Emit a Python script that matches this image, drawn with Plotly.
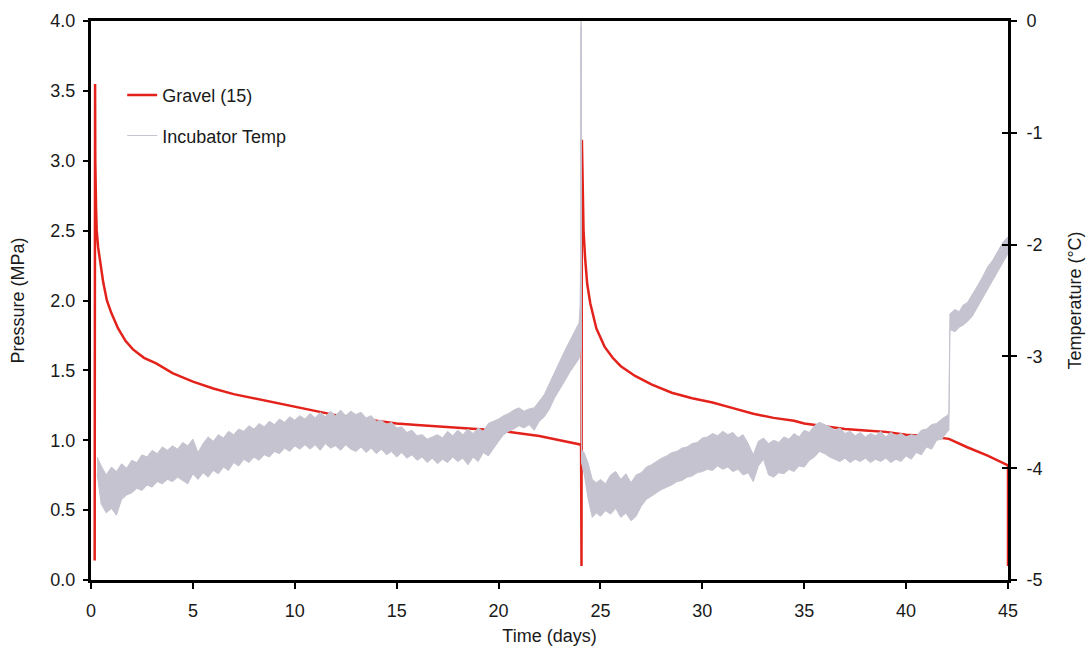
import plotly.graph_objects as go

# ---- Pressure (Gravel (15)), MPa ----
p_days = [0.18, 0.20, 0.21, 0.25, 0.28, 0.35, 0.44, 0.60, 0.78, 1.0, 1.33, 1.7, 2.06, 2.6, 3.2,
          4.0, 5.0, 6.0, 7.0, 8.0, 9.0, 10.0, 11.0, 12.0, 13.0, 14.0, 15.0, 16.0, 17.0, 18.0,
          19.0, 20.0, 21.0, 22.0, 23.0, 24.0, 24.05, 24.07, 24.09, 24.12, 24.17, 24.25, 24.35,
          24.5, 24.8, 25.2, 25.6, 26.0, 26.7, 27.5, 28.5, 29.5, 30.5, 31.5, 32.5, 33.5,
          34.5, 35.0, 36.0, 37.0, 38.0, 39.0, 40.0, 41.0, 42.1, 43.0, 44.0, 45.0, 45.0]
p_mpa = [0.14, 3.55, 3.00, 2.66, 2.50, 2.38, 2.29, 2.13, 2.00, 1.91, 1.80, 1.71, 1.65, 1.59, 1.55,
         1.48, 1.42, 1.37, 1.33, 1.30, 1.27, 1.24, 1.21, 1.18, 1.16, 1.14, 1.12, 1.11, 1.10, 1.09,
         1.08, 1.07, 1.05, 1.03, 1.00, 0.97, 0.96, 0.10, 3.15, 2.80, 2.50, 2.30, 2.12,
         1.98, 1.80, 1.67, 1.59, 1.53, 1.46, 1.40, 1.34, 1.30, 1.27, 1.23, 1.19, 1.16,
         1.14, 1.12, 1.10, 1.08, 1.07, 1.06, 1.04, 1.03, 1.01, 0.95, 0.89, 0.82, 0.10]

# ---- Incubator temperature, read as the high / low edge of its noise band, deg C ----
t_days = [0.30, 0.50, 0.75, 1.00, 1.25, 1.50, 1.75, 2.00, 2.25, 2.50, 2.75, 3.00, 3.25, 3.50,
          3.75, 4.00, 4.25, 4.50, 4.75, 5.00, 5.25, 5.50, 5.75, 6.00, 6.25, 6.50, 6.75, 7.00,
          7.25, 7.50, 7.75, 8.00, 8.25, 8.50, 8.75, 9.00, 9.25, 9.50, 9.75, 10.00, 10.25,
          10.50, 10.75, 11.00, 11.25, 11.50, 11.75, 12.00, 12.25, 12.50, 12.75, 13.00, 13.25,
          13.50, 13.75, 14.00, 14.25, 14.50, 14.75, 15.00, 15.25, 15.50, 15.75, 16.00, 16.25,
          16.50, 16.75, 17.00, 17.25, 17.50, 17.75, 18.00, 18.25, 18.50, 18.75, 19.00, 19.25,
          19.50, 19.75, 20.00, 20.25, 20.50, 20.75, 21.00, 21.25, 21.50, 21.75, 22.00, 22.25,
          22.50, 22.75, 23.00, 23.25, 23.50, 23.75,
          23.95, 24.00, 24.03, 24.05, 24.07, 24.20, 24.40, 24.60, 24.80,
          25.00, 25.25, 25.50, 25.75, 26.00, 26.25, 26.50, 26.75, 27.00, 27.25, 27.50, 27.75,
          28.00, 28.25, 28.50, 28.75, 29.00, 29.25, 29.50, 29.75, 30.00, 30.25, 30.50, 30.75,
          31.00, 31.25, 31.50, 31.75, 32.00, 32.25, 32.50, 32.75, 33.00, 33.25, 33.50, 33.75,
          34.00, 34.25, 34.50, 34.75, 35.00, 35.25, 35.50, 35.75, 36.00, 36.25, 36.50, 36.75,
          37.00, 37.25, 37.50, 37.75, 38.00, 38.25, 38.50, 38.75, 39.00, 39.25, 39.50, 39.75,
          40.00, 40.25, 40.50, 40.75, 41.00, 41.25, 41.50, 41.75, 42.00,
          42.10, 42.15, 42.40, 42.60, 42.80,
          43.00, 43.25, 43.50, 43.75, 44.00, 44.25, 44.50, 44.75, 45.00]
t_high = [-3.90, -3.98, -4.06, -3.99, -4.03, -3.96, -4.00, -3.93, -3.95, -3.88, -3.90, -3.84,
          -3.87, -3.81, -3.84, -3.80, -3.83, -3.77, -3.80, -3.74, -3.86, -3.78, -3.72, -3.76,
          -3.70, -3.73, -3.67, -3.70, -3.65, -3.67, -3.62, -3.65, -3.60, -3.63, -3.58, -3.61,
          -3.56, -3.59, -3.54, -3.57, -3.53, -3.56, -3.51, -3.55, -3.50, -3.54, -3.49, -3.53,
          -3.48, -3.53, -3.49, -3.52, -3.50, -3.55, -3.53, -3.58, -3.57, -3.61, -3.59, -3.64,
          -3.63, -3.68, -3.66, -3.71, -3.70, -3.74, -3.72, -3.70, -3.73, -3.67, -3.71, -3.66,
          -3.70, -3.65, -3.69, -3.64, -3.67, -3.60, -3.58, -3.56, -3.53, -3.51, -3.48, -3.46,
          -3.49, -3.47, -3.46, -3.40, -3.34, -3.24, -3.14, -3.04, -2.95, -2.86, -2.77,
          -2.70, -2.55, -2.10, 0.00, -3.84, -3.86, -3.96, -4.10, -4.13,
          -4.10, -4.14, -4.06, -4.03, -4.10, -4.05, -4.13, -4.06, -4.04, -3.99, -3.97, -3.94,
          -3.91, -3.89, -3.86, -3.85, -3.82, -3.81, -3.78, -3.77, -3.73, -3.72, -3.69, -3.71,
          -3.67, -3.70, -3.68, -3.73, -3.70, -3.78, -3.88, -3.76, -3.73, -3.78, -3.75, -3.77,
          -3.72, -3.74, -3.69, -3.72, -3.66, -3.68, -3.62, -3.59, -3.61, -3.63, -3.66, -3.64,
          -3.69, -3.67, -3.71, -3.68, -3.72, -3.69, -3.71, -3.67, -3.72, -3.68, -3.71, -3.69,
          -3.72, -3.70, -3.71, -3.66, -3.65, -3.61, -3.60, -3.56, -3.53,
          -3.51, -2.62, -2.58, -2.60, -2.54,
          -2.52, -2.45, -2.37, -2.29, -2.20, -2.14, -2.06, -1.98, -1.93]
t_low = [-4.05, -4.32, -4.40, -4.36, -4.42, -4.28, -4.24, -4.22, -4.18, -4.20, -4.15, -4.17,
         -4.12, -4.14, -4.10, -4.12, -4.08, -4.11, -4.14, -4.05, -4.10, -4.04, -4.08, -4.02,
         -4.05, -3.99, -4.02, -3.95, -3.98, -3.92, -3.95, -3.90, -3.93, -3.88, -3.90, -3.85,
         -3.87, -3.82, -3.85, -3.80, -3.83, -3.79, -3.83, -3.79, -3.84, -3.78, -3.82, -3.80,
         -3.84, -3.79, -3.83, -3.85, -3.81, -3.86, -3.82, -3.87, -3.83, -3.88, -3.85, -3.90,
         -3.86, -3.91, -3.88, -3.93, -3.90, -3.95, -3.91, -3.96, -3.92, -3.95, -3.90, -3.94,
         -3.91, -3.97, -3.90, -3.94, -3.86, -3.89, -3.82, -3.76, -3.70, -3.67, -3.65, -3.62,
         -3.64, -3.61, -3.66, -3.58, -3.54, -3.47, -3.37, -3.30, -3.22, -3.14, -3.07,
         -3.02, -2.95, -2.90, -0.05, -3.95, -4.05, -4.28, -4.44, -4.40,
         -4.43, -4.38, -4.41, -4.36, -4.44, -4.40, -4.47, -4.43, -4.34, -4.28, -4.25, -4.22,
         -4.19, -4.17, -4.15, -4.12, -4.11, -4.08, -4.07, -4.04, -4.03, -4.01, -4.02, -3.98,
         -4.01, -3.99, -4.03, -4.01, -4.06, -4.04, -4.12, -3.98, -3.92, -4.06, -4.08, -4.04,
         -4.05, -4.01, -4.03, -3.98, -3.99, -3.93, -3.90, -3.85, -3.87, -3.90, -3.92, -3.94,
         -3.91, -3.95, -3.92, -3.94, -3.91, -3.95, -3.92, -3.94, -3.91, -3.95, -3.92, -3.94,
         -3.89, -3.92, -3.86, -3.88, -3.81, -3.83, -3.75, -3.74, -3.68,
         -3.66, -2.76, -2.78, -2.74, -2.72,
         -2.69, -2.64, -2.56, -2.48, -2.41, -2.32, -2.25, -2.16, -2.08]
assert len(t_days) == len(t_high) == len(t_low)
assert len(p_days) == len(p_mpa)

temp_ticks = [-5, -4, -3, -2, -1, 0]
temp_labels = ["-5", "-4", "-3", "-2", "-1", "0"]

RED = "#e3221b"
GRAY = "#c5c3cf"
FONT = "Liberation Sans, Arial, sans-serif"
TXT = "#1a1a1a"

fig = go.Figure()

fig.add_trace(go.Scatter(x=t_days, y=t_low, yaxis="y2", mode="lines",
                         line=dict(color=GRAY, width=1), showlegend=False, hoverinfo="skip",
                         legendgroup="b"))
fig.add_trace(go.Scatter(x=t_days, y=t_high, yaxis="y2", mode="lines",
                         line=dict(color=GRAY, width=1), fill="tonexty", fillcolor=GRAY,
                         showlegend=False, hoverinfo="skip", legendgroup="b"))
# legend entry for the temperature series
fig.add_trace(go.Scatter(x=[None], y=[None], yaxis="y2", mode="lines", name="Incubator Temp",
                         line=dict(color=GRAY, width=1), legendrank=2, legendgroup="b"))
# empty trace so the inner-tick copy of the right axis is drawn
fig.add_trace(go.Scatter(x=[None], y=[None], yaxis="y3", mode="lines", showlegend=False,
                         hoverinfo="skip"))

fig.add_trace(go.Scatter(x=p_days, y=p_mpa, mode="lines", name="Gravel (15)",
                         line=dict(color=RED, width=2.5), legendrank=1, legendgroup="a"))

axis_font = dict(family=FONT, size=18, color=TXT)
title_font = dict(family=FONT, size=18, color=TXT)

fig.update_layout(
    width=1089, height=655,
    margin=dict(l=91, r=81, t=21, b=75),
    paper_bgcolor="white", plot_bgcolor="white",
    font=dict(family=FONT, size=18, color=TXT),
    xaxis=dict(range=[0, 45], dtick=5, tick0=0, showgrid=False, zeroline=False,
               showline=True, linecolor="black", linewidth=3, mirror=True,
               ticks="outside", ticklen=6, tickwidth=2, tickcolor="black",
               tickfont=axis_font, ticklabelstandoff=6, automargin=False,
               title=dict(text="Time (days)", font=title_font, standoff=10)),
    yaxis=dict(range=[0, 4], dtick=0.5, tick0=0, tickformat=".1f", showgrid=False,
               zeroline=False, showline=True, linecolor="black", linewidth=3,
               ticks="outside", ticklen=5, tickwidth=2, tickcolor="black",
               tickfont=axis_font, ticklabelstandoff=4, automargin=False,
               title=dict(text="Pressure (MPa)", font=title_font, standoff=22)),
    yaxis2=dict(range=[-5, 0], tickvals=temp_ticks, ticktext=temp_labels, overlaying="y",
                side="right", showgrid=False, zeroline=False, showline=True,
                linecolor="black", linewidth=3,
                ticks="outside", ticklen=6, tickwidth=2, tickcolor="black",
                tickfont=axis_font, ticklabelstandoff=6, automargin=False,
                title=dict(text="Temperature (°C)", font=title_font, standoff=27)),
    yaxis3=dict(range=[-5, 0], tickvals=temp_ticks, overlaying="y", side="right", anchor="x",
                showgrid=False, zeroline=False, showline=False, showticklabels=False,
                ticks="inside", ticklen=6, tickwidth=2, tickcolor="black", automargin=False),
    legend=dict(x=0.034, y=0.9, xanchor="left", yanchor="top", bgcolor="rgba(0,0,0,0)",
                font=dict(family=FONT, size=18, color=TXT), tracegroupgap=14,
                traceorder="grouped"),
    showlegend=True,
)

fig.write_html("out.html")
